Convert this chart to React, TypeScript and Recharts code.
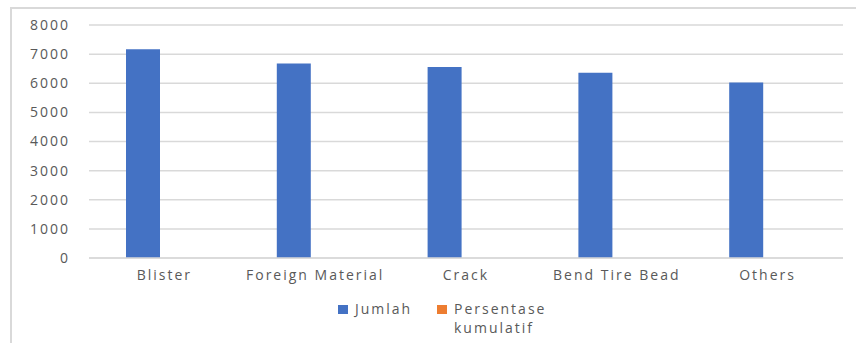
import { BarChart, Bar, XAxis, YAxis, CartesianGrid } from 'recharts';

const categories = ['Blister', 'Foreign Material', 'Crack', 'Bend Tire Bead', 'Others'];
const jumlah = [7170, 6680, 6560, 6360, 6030];
const persentaseKumulatif = [0.22, 0.42, 0.62, 0.82, 1.0];
const yTicks = [0, 1000, 2000, 3000, 4000, 5000, 6000, 7000, 8000];

const BLUE = '#4472C4';
const ORANGE = '#ED7D31';
const TEXT = '#595959';
const GRID = '#D9D9D9';
const FONT = '"Open Sans", sans-serif';

const data = categories.map((name, i) => ({
  name,
  jumlah: jumlah[i],
  kumulatif: persentaseKumulatif[i],
}));

const tickStyle = { fontSize: 14, fill: TEXT, fontFamily: FONT, letterSpacing: 2 };

export default function App() {
  return (
    <div style={{ position: 'relative', width: 856, height: 343, background: '#fff', fontFamily: FONT }}>
      <style>{'body{margin:0}'}</style>
      {/* outer frame */}
      <div
        style={{
          position: 'absolute',
          left: 10,
          top: 7,
          width: 846,
          height: 336,
          borderTop: `2px solid ${GRID}`,
          borderLeft: `2px solid ${GRID}`,
          boxSizing: 'border-box',
        }}
      />
      <BarChart
        width={856}
        height={343}
        data={data}
        margin={{ top: 25, right: 13, bottom: 0, left: 10 }}
        barGap={0}
      >
        <CartesianGrid vertical={false} stroke={GRID} strokeWidth={1.5} />
        <XAxis
          dataKey="name"
          height={85}
          axisLine={{ stroke: GRID, strokeWidth: 1.5 }}
          tickLine={false}
          tickSize={0}
          tickMargin={12}
          tick={tickStyle}
          interval={0}
        />
        <YAxis
          width={79}
          domain={[0, 8000]}
          ticks={yTicks}
          axisLine={false}
          tickLine={false}
          tickSize={0}
          tickMargin={19}
          tick={tickStyle}
        />
        <Bar dataKey="jumlah" name="Jumlah" fill={BLUE} barSize={34} isAnimationActive={false} />
        <Bar dataKey="kumulatif" name="Persentase kumulatif" fill={ORANGE} barSize={42} isAnimationActive={false} />
      </BarChart>
      {/* legend */}
      <div style={{ position: 'absolute', left: 338, top: 299, fontSize: 14, color: TEXT, letterSpacing: 2, lineHeight: '19px' }}>
        <div style={{ position: 'absolute', left: 0, top: 6, width: 10, height: 9, background: BLUE }} />
        <div style={{ position: 'absolute', left: 17, top: 0, whiteSpace: 'nowrap' }}>Jumlah</div>
        <div style={{ position: 'absolute', left: 99, top: 6, width: 10, height: 9, background: ORANGE }} />
        <div style={{ position: 'absolute', left: 116, top: 0, whiteSpace: 'nowrap' }}>
          Persentase
          <br />
          kumulatif
        </div>
      </div>
    </div>
  );
}
